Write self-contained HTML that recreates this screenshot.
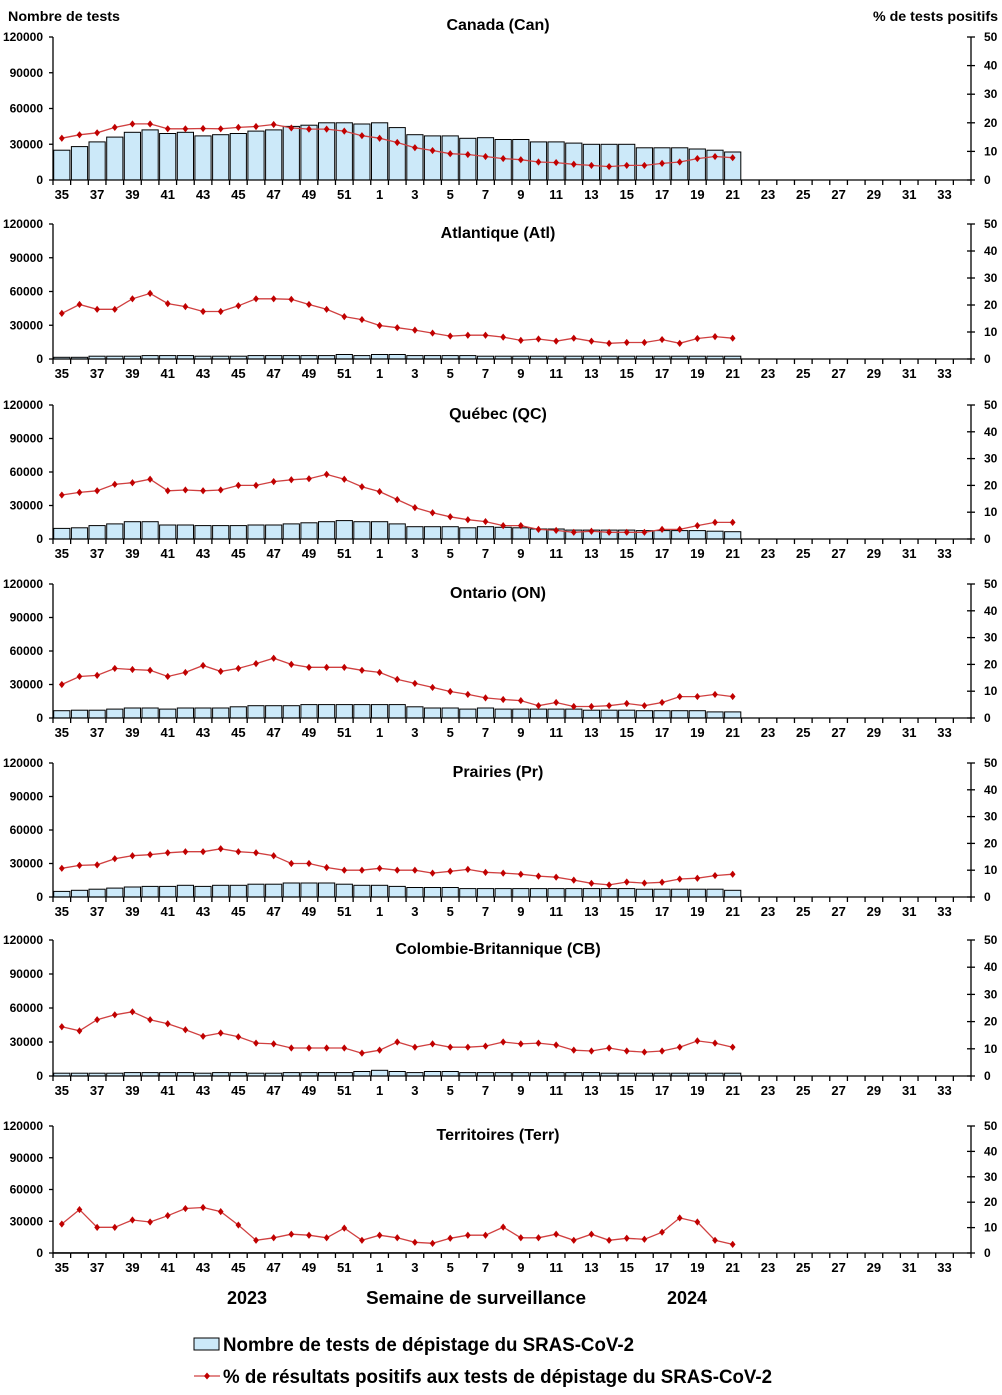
<!DOCTYPE html>
<html><head><meta charset="utf-8"><title>Tests SRAS-CoV-2</title>
<style>
html,body{margin:0;padding:0;background:#fff;}
svg{display:block;font-family:"Liberation Sans Narrow","Liberation Sans",Arial,sans-serif;font-weight:bold;}
</style></head>
<body>
<svg id="chart" width="1002" height="1395" viewBox="0 0 1002 1395" xmlns="http://www.w3.org/2000/svg"></svg>
<script>
// x-axis week labels (52 slots: 35..52, 1..34)
const weeks = [35,36,37,38,39,40,41,42,43,44,45,46,47,48,49,50,51,52,1,2,3,4,5,6,7,8,9,10,11,12,13,14,15,16,17,18,19,20,21,22,23,24,25,26,27,28,29,30,31,32,33,34];
const leftTicks = [0,30000,60000,90000,120000];
const rightTicks = [0,10,20,30,40,50];
const panelNames = ["Canada (Can)","Atlantique (Atl)","Québec (QC)","Ontario (ON)","Prairies (Pr)","Colombie-Britannique (CB)","Territoires (Terr)"];

// tests (counts), weeks 35..21
const testsCan = [25000,28000,32000,36000,40000,42000,39000,40000,37000,38000,39000,41000,42000,45000,46000,48000,48000,47000,48000,44000,38000,37000,37000,35000,35500,34000,34000,32000,32000,31000,30000,30000,30000,27000,27000,27000,26000,25000,23500];
const testsAtl = [1500,1500,2500,2500,2500,3000,3000,3000,2500,2500,2500,3000,3000,3000,3000,3000,4000,3000,4000,4000,3000,3000,3000,3000,2500,2500,2500,2500,2500,2500,2500,2500,2500,2500,2500,2500,2500,2500,2500];
const testsQC = [9500,10000,12000,13500,15500,15500,12500,12500,12000,12000,12000,12500,12500,13500,14500,15500,16500,15500,15500,13500,11000,11000,11000,10000,11000,10500,10000,9000,9000,8000,8000,8000,8000,7500,7500,7500,7500,7000,6500];
const testsON = [6500,7000,7000,8000,9000,9000,8000,9000,9000,9000,10000,11000,11000,11000,12000,12000,12000,12000,12000,12000,10000,9000,9000,8000,9000,8000,8000,8000,8000,8000,7000,7000,7000,6500,6500,6500,6500,5500,5500];
const testsPr = [5000,6000,7000,8000,9000,9500,9500,10500,9500,10500,10500,11500,11500,12500,12500,12500,11500,10500,10500,9500,8500,8500,8500,7500,7500,7500,7500,7500,7500,7500,7500,7500,7500,7000,7000,7000,7000,7000,6000];
const testsCB = [2500,2500,2500,2500,3000,3000,3000,3000,2500,3000,3000,2500,2500,3000,3000,3000,3000,4000,5000,4000,3000,4000,4000,3000,3000,3000,3000,3000,3000,3000,3000,2500,2500,2500,2500,2500,2500,2500,2500];
const testsTerr = [300,300,300,300,300,300,300,300,300,300,300,300,300,300,300,300,300,300,300,300,300,300,300,300,300,300,300,300,300,300,300,300,300,300,300,300,300,300,300];

// % positive, weeks 35..21
const pctCan = [14.6,15.8,16.5,18.4,19.6,19.6,17.9,17.9,18.0,17.9,18.4,18.7,19.4,18.2,17.8,17.8,17.1,15.5,14.6,13.1,11.3,10.3,9.2,8.9,8.2,7.5,7.1,6.3,6.1,5.5,5.1,4.7,5.1,5.1,5.8,6.3,7.5,8.2,7.8];
const pctAtl = [16.9,20.2,18.4,18.4,22.3,24.3,20.5,19.4,17.6,17.6,19.7,22.3,22.3,22.1,20.2,18.4,15.7,14.6,12.4,11.6,10.7,9.6,8.5,8.8,8.8,8.1,6.9,7.4,6.6,7.7,6.6,5.8,6.1,6.1,7.2,5.8,7.6,8.3,7.7];
const pctQC = [16.4,17.4,18.0,20.4,21.0,22.3,18.0,18.3,18.0,18.3,20.0,20.0,21.4,22.1,22.5,24.1,22.3,19.5,17.7,14.7,11.7,9.8,8.3,7.2,6.5,5.0,5.0,3.6,3.2,2.5,2.9,2.5,2.5,2.5,3.6,3.6,5.0,6.2,6.2];
const pctON = [12.5,15.5,15.9,18.5,18.1,17.8,15.5,17.0,19.6,17.4,18.5,20.3,22.3,20.0,18.9,18.9,18.9,17.8,17.0,14.4,12.9,11.4,9.9,8.8,7.5,6.9,6.5,4.6,5.8,4.3,4.3,4.6,5.4,4.6,5.8,8.0,8.0,8.8,8.0];
const pctPr = [10.7,11.8,12.0,14.3,15.4,15.8,16.5,16.9,16.9,18.0,16.9,16.5,15.4,12.5,12.5,11.0,10.0,10.0,10.7,10.0,10.0,8.9,9.6,10.3,9.2,8.9,8.5,7.8,7.4,6.3,5.1,4.5,5.6,5.2,5.5,6.7,7.0,8.0,8.5];
const pctCB = [18.1,16.6,20.7,22.5,23.6,20.7,19.2,17.0,14.6,15.8,14.4,12.1,11.8,10.3,10.3,10.3,10.3,8.4,9.5,12.5,10.6,11.8,10.6,10.6,11.0,12.5,11.8,12.1,11.4,9.5,9.2,10.3,9.2,8.8,9.2,10.6,12.9,12.1,10.6];
const pctTerr = [11.4,17.1,10.1,10.1,13.0,12.2,14.7,17.5,17.9,16.3,11.0,5.0,6.0,7.4,7.0,6.0,9.8,5.0,7.0,6.0,4.2,3.8,5.8,7.0,7.0,10.2,6.0,6.0,7.4,5.0,7.4,5.0,5.8,5.4,8.2,13.8,12.2,5.0,3.4];

const panelTests = [testsCan,testsAtl,testsQC,testsON,testsPr,testsCB,testsTerr];
const panelPct = [pctCan,pctAtl,pctQC,pctON,pctPr,pctCB,pctTerr];

const NS = "http://www.w3.org/2000/svg";
const svg = document.getElementById("chart");
function mk(tag, attrs, parent){
  const e = document.createElementNS(NS, tag);
  for (const k in attrs) e.setAttribute(k, attrs[k]);
  (parent||svg).appendChild(e);
  return e;
}
const X0 = 53, X1 = 971;
const slot = (X1 - X0) / weeks.length;
function xCenter(i){ return X0 + (i + 0.5) * slot; }
const panelTop = [37,224,405,584,763,940,1126];
const panelBot = [180,359,539,718,897,1076,1253];

panelNames.forEach((name, p) => {
  const top = panelTop[p], bot = panelBot[p];
  const g = mk("g", {});
  
  
  const yL = v => bot - (v / 120000) * (bot - top);
  const yR = v => bot - (v / 50) * (bot - top);

  const ty = p === 0 ? 30 : top + 14;
  const t = mk("text", {x: 498, y: ty, "text-anchor": "middle", "font-size": 16}, g);
  t.textContent = name;
  
  

  // bars
  panelTests[p].forEach((v, i) => {
    const h = bot - yL(v);
    const r = mk("rect", {x: (xCenter(i) - slot*0.46).toFixed(1), y: yL(v).toFixed(1), width: (slot*0.92).toFixed(1), height: Math.max(h,0.5).toFixed(1), fill: "#cce9f9", stroke: "#000", "stroke-width": 1}, g);
    
    
  });

  // axes
  const ax = mk("g", {stroke: "#000", "stroke-width": 1.3}, g);
  
  
  mk("line", {x1: X0, y1: top, x2: X0, y2: bot}, ax);
  mk("line", {x1: X1, y1: top, x2: X1, y2: bot}, ax);
  mk("line", {x1: X0, y1: bot, x2: X1, y2: bot}, ax);
  for (let i = 0; i <= weeks.length; i++) {
    const x = X0 + i * slot;
    mk("line", {x1: x, y1: bot, x2: x, y2: bot + 5}, ax);
  }
  leftTicks.forEach(v => {
    mk("line", {x1: X0 - 4, y1: yL(v), x2: X0, y2: yL(v)}, ax);
    const lt = mk("text", {x: 43, y: yL(v) + 4, "text-anchor": "end", "font-size": 12, fill: "#000", stroke: "none"}, g);
    lt.textContent = v;
    
    
  });
  rightTicks.forEach(v => {
    mk("line", {x1: X1 - 4, y1: yR(v), x2: X1 + 4, y2: yR(v)}, ax);
    const rt = mk("text", {x: 984, y: yR(v) + 4, "font-size": 12, fill: "#000"}, g);
    rt.textContent = v;
    
    
  });
  weeks.forEach((w, i) => {
    if (i % 2 !== 0) return;
    const wt = mk("text", {x: xCenter(i), y: bot + 19, "text-anchor": "middle", "font-size": 13}, g);
    wt.textContent = w;
    
    
  });

  // line
  const pts = panelPct[p].map((v, i) => xCenter(i).toFixed(1) + "," + yR(v).toFixed(1)).join(" ");
  const pl = mk("polyline", {points: pts, fill: "none", stroke: "#d04040", "stroke-width": 1.3}, g);
  
  
  panelPct[p].forEach((v, i) => {
    const cx = xCenter(i), cy = yR(v), s = 3.6;
    const d = mk("polygon", {points: `${cx},${cy-s} ${cx+s*0.8},${cy} ${cx},${cy+s} ${cx-s*0.8},${cy}`, fill: "#c00000"}, g);
    
    
  });
});

function txt(x, y, s, size, name, anchor, len){
  const e = mk("text", {x: x, y: y, "font-size": size, "text-anchor": anchor || "start"});
  if (len) { e.setAttribute("textLength", len); e.setAttribute("lengthAdjust", "spacingAndGlyphs"); }
  e.textContent = s;
  
  
  return e;
}
txt(8, 21, "Nombre de tests", 14, "left-axis-title", "start", 112);
txt(873, 21, "% de tests positifs", 14, "right-axis-title", "start", 125);
txt(247, 1304, "2023", 18, "year-2023-label", "middle");
txt(476, 1304, "Semaine de surveillance", 18, "x-axis-title", "middle", 220);
txt(687, 1304, "2024", 18, "year-2024-label", "middle");

const lg = mk("g", {});


const lb = mk("rect", {x: 194, y: 1338, width: 25, height: 12, fill: "#cce9f9", stroke: "#000", "stroke-width": 1}, lg);


txt(223, 1351, "Nombre de tests de dépistage du SRAS-CoV-2", 19, "legend-entry-tests", "start", 411);
const ll = mk("line", {x1: 194, y1: 1376, x2: 220, y2: 1376, stroke: "#d04040", "stroke-width": 1.3}, lg);


const lm = mk("polygon", {points: "207,1372.5 210,1376 207,1379.5 204,1376", fill: "#c00000"}, lg);


txt(223, 1383, "% de résultats positifs aux tests de dépistage du SRAS-CoV-2", 19, "legend-entry-percent", "start", 549);
</script>
</body></html>
